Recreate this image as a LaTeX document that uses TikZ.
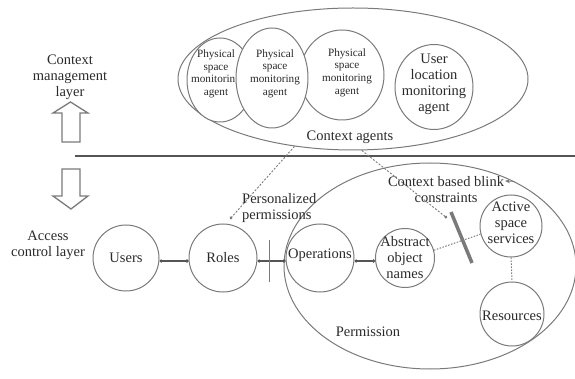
\documentclass[tikz,border=0pt]{standalone}
\usepackage{fontspec}
\setmainfont{Liberation Serif}
\usetikzlibrary{shapes.geometric,arrows.meta}
\definecolor{ln}{HTML}{7A7A7A}
\definecolor{tx}{HTML}{2A2A2A}
\definecolor{dk}{HTML}{555555}
\begin{document}
\begin{tikzpicture}[x=1pt,y=-1pt,
  big/.style={font=\fontsize{14.5}{16}\selectfont, text=tx, align=center, inner sep=0},
  small/.style={font=\fontsize{11.2}{12.6}\selectfont, text=tx, align=center, inner sep=0},
  circ/.style={circle, draw=ln, line width=1pt, fill=white, inner sep=0, minimum size=#1},
  ell/.style 2 args={ellipse, draw=ln, line width=1pt, fill=white, inner sep=0, minimum width=#1, minimum height=#2},
  dotlink/.style={draw=dk, line width=1.2pt, {Circle[length=3.2pt]}-{Circle[length=3.2pt]}},
  dashlink/.style={draw=ln, line width=0.9pt, dash pattern=on 2pt off 1.6pt, -{Circle[length=3pt]}},
  dotlinkgray/.style={draw=ln, line width=1pt, dash pattern=on 1.5pt off 1.5pt},
  hollow/.style={draw=ln, line width=1.3pt, fill=white, line join=miter}
]
\useasboundingbox (0,0) rectangle (575,379);

% ---- context management layer ----
\node[ell={350pt}{142pt}] (ctx) at (353,79) {};
\node[ell={66pt}{84pt}, label={[small,xshift=-4pt,yshift=6pt]center:Physical\\space\\monitoring\\agent}] (p1) at (220,80) {};
\node[ell={84pt}{90pt}, label={[small,xshift=5pt,yshift=2.5pt]center:Physical\\space\\monitoring\\agent}] (p3) at (342,75) {};
\node[ell={72pt}{100pt}, label={[small,xshift=3pt,yshift=4.5pt]center:Physical\\space\\monitoring\\agent}] (p2) at (272,78) {};
\node[ell={78pt}{85pt}, label={[big,yshift=3pt]center:User\\location\\monitoring\\agent}] (ul) at (434,87) {};
\node[big] (ctxlbl) at (350,137) {Context agents};

\node[big] (cml) at (70,77) {Context\\management\\layer};
\draw[hollow] (62,142) -- (62,113) -- (53,113) -- (70.5,102) -- (88,113) -- (80,113) -- (80,142) -- cycle;
\draw[hollow] (62,169) -- (80,169) -- (80,196) -- (88,196) -- (71,209) -- (53,196) -- (62,196) -- cycle;

% separator
\coordinate (hl1) at (75,156);
\coordinate (hl2) at (575,156);
\draw[draw=dk, line width=1.8pt] (hl1) -- (hl2);

% ---- access control layer ----
\node[big] (acl) at (48,245) {Access\\control layer};
\node[ellipse, draw=ln, line width=1pt, inner sep=0, minimum width=292pt, minimum height=206pt] (perm) at (430,266) {};
\node[big] (permlbl) at (368,332) {Permission};

\node[circ=66pt, label={[big]center:Users}] (users) at (126,258) {};
\node[circ=68pt, label={[big]center:Roles}] (roles) at (223,258) {};
\node[circ=68pt, label={[big,yshift=3pt]center:Operations}] (ops) at (320,258) {};
\node[circ=59pt, label={[big]center:Abstract\\object\\names}] (abs) at (405,258) {};
\node[circ=62pt, label={[big,yshift=3pt]center:Active\\space\\services}] (act) at (511,226) {};
\node[circ=64pt, label={[big,yshift=-2pt]center:Resources}] (res) at (512,314) {};

\node[big, anchor=west, align=left] (pers) at (242,208) {Personalized\\permissions};
\node[big] (cbb) at (446,190) {Context based blink\\constraints};

% connectors
\draw[dotlink] ([yshift=-3pt]users.east) -- ([yshift=-3pt]roles.west);
\draw[dotlink] ([yshift=-3pt]roles.east) -- ([yshift=-3pt]ops.west);
\draw[dotlink] ([yshift=-3pt]ops.east) -- ([yshift=-3pt]abs.west);

\coordinate (sep1) at (269,240);
\coordinate (sep2) at (269,282);
\draw[draw=ln, line width=1pt] (sep1) -- (sep2);

\coordinate (b1) at (451,212);
\coordinate (b2) at (472,263);
\draw[draw=ln, line width=3.5pt] (b1) -- (b2);

\coordinate (pp) at (230,219);
\coordinate (bk) at (447,218);
\draw[dashlink] (ctx.229) -- (pp);
\draw[dashlink] (ctx.277) -- (bk);

\draw[dotlinkgray] (abs.15) -- (act.195);
\draw[dotlinkgray] (act.south) -- (res.north);

\coordinate (bl) at (505,181);
\draw[draw=ln, line width=0.8pt, -{Stealth[length=5pt,width=4pt]}] (perm.45) -- (bl);
\end{tikzpicture}
\end{document}
